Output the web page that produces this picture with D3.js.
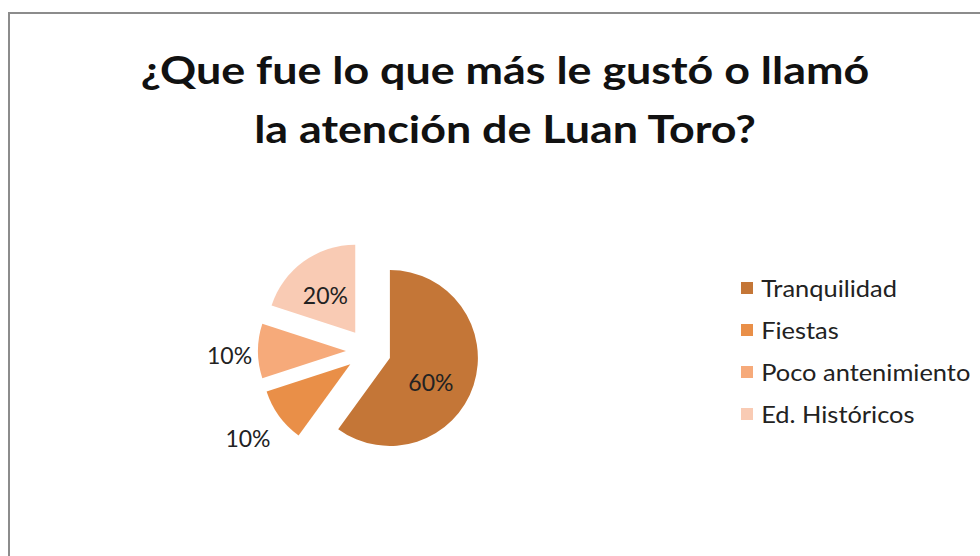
<html>
<script src='https://d3js.org/d3.v7.min.js'></script>
<style>
  body {margin: 0; background: white;}
  text {font-family: Lato, "Open Sans", sans-serif;}
</style>
<body>
<svg id="chart" width=980 height=556></svg>
<script>
var categories = ["Tranquilidad", "Fiestas", "Poco antenimiento", "Ed. Históricos"];
var values = [60, 10, 10, 20];
var labels = ["60%", "10%", "10%", "20%"];
var colors = ["#C47637", "#E98F48", "#F6AA7A", "#F9CBB4"];
var titleLines = ["¿Que fue lo que más le gustó o llamó", "la atención de Luan Toro?"];

var svg = d3.select("#chart");

// frame
svg.append("rect")
  .attr("x", 9).attr("y", 13).attr("width", 1000).attr("height", 600)
  .attr("fill", "white").attr("stroke", "#8c8c8c").attr("stroke-width", 2);

svg.append("g")
  .attr("transform", "translate(505,0) scale(1.18,1)")
  .selectAll("text")
  .data(titleLines)
  .enter().append("text")
  .attr("x", 0)
  .attr("y", function(d, i) { return 84 + i * 59; })
  .attr("text-anchor", "middle")
  .attr("font-size", 38)
  .attr("font-weight", "bold")
  .attr("fill", "#111")
  .text(function(d) { return d; });

var cx = 368.5, cy = 351, r = 88, explode = 22.5;
var pie = d3.pie().sort(null)(values);
var arc = d3.arc().innerRadius(0).outerRadius(r);

var g = svg.append("g").attr("transform", "translate(" + cx + "," + cy + ")");
function offset(a, k) {
  return [Math.sin(a) * k, -Math.cos(a) * k];
}
function mid(d) { return (d.startAngle + d.endAngle) / 2; }
g.selectAll("path")
  .data(pie)
  .enter().append("path")
  .attr("d", arc)
  .attr("fill", function(d, i) { return colors[i]; })
  .attr("transform", function(d) { var o = offset(mid(d), explode); return "translate(" + o[0] + "," + o[1] + ")"; });

// data labels: inside for big slices, outside for small ones
var labelDist = [70, 149, 139, 70];
var labelTurn = [9, 0, -2, -2];
g.selectAll("text")
  .data(pie)
  .enter().append("text")
  .attr("x", function(d, i) { return offset(mid(d) + labelTurn[i] * Math.PI / 180, labelDist[i])[0]; })
  .attr("y", function(d, i) { return offset(mid(d) + labelTurn[i] * Math.PI / 180, labelDist[i])[1]; })
  .attr("dy", "0.36em")
  .attr("text-anchor", "middle")
  .attr("font-size", 23)
  .attr("fill", "#222")
  .text(function(d, i) { return labels[i]; });

var legend = svg.append("g").selectAll("g")
  .data(categories)
  .enter().append("g")
  .attr("transform", function(d, i) { return "translate(741," + (288 + i * 42) + ")"; });
legend.append("rect")
  .attr("x", 0).attr("y", -6).attr("width", 12).attr("height", 12)
  .attr("fill", function(d, i) { return colors[i]; });
legend.append("text")
  .attr("x", 19).attr("dy", "0.36em")
  .attr("font-size", 24)
  .attr("fill", "#222")
  .attr("transform", "scale(1.06,1)")
  .text(function(d) { return d; });
</script>
</body>
</html>
